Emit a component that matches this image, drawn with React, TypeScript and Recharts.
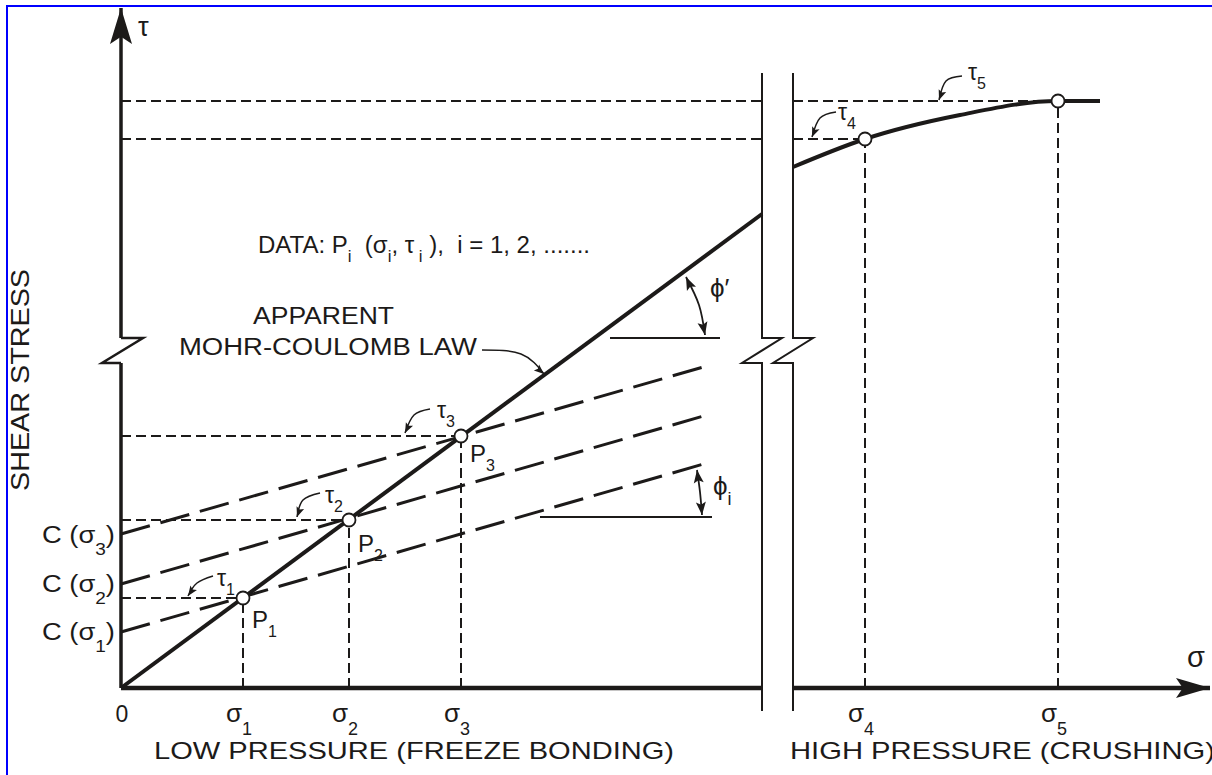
// Shear stress vs normal stress sketch: apparent Mohr-Coulomb law at low
// pressure (freeze bonding) and the crushing branch at high pressure.
// Units are sketch units (1 unit ~ 1 px), origin at the axis corner.

import React from 'react'
import { ComposedChart, Line, Scatter, XAxis, YAxis } from 'recharts'

const INK = '#1c1a19'
const FONT = "'Liberation Sans', Arial, Helvetica, sans-serif"

// measured points P1..P5
const sigmaP = [122, 228, 340, 744, 937]
const tauP = [90, 168, 252, 549, 587]

// apparent Mohr-Coulomb law, stops at the axis break
const mohrSigma = [0, 641]
const mohrTau = [0, 474]

// crushing branch after the break
const crushSigma = [672, 744, 839, 937, 979]
const crushTau = [521, 549, 573, 587, 587]

// Coulomb lines through each Pi: intercept C(σi) and value at the right end
const cohSigma = [0, 586]
const cohTau = [
  [56, 225],
  [104, 273],
  [154, 322],
]

// axis break (two parallel lines with a zig-zag)
const breakLeftSigma = [641, 641, 661, 621, 641, 641]
const breakRightSigma = [672, 672, 692, 652, 672, 672]
const breakTau = [615, 350, 350, 325, 325, -23]

// y-axis zig-zag
const yZigSigma = [0, -19, 22, 0]
const yZigTau = [325, 325, 350, 350]

// friction angle markers
const phiPrimeRefSigma = [489, 599]
const phiPrimeRefTau = [350, 350]
const phiPrimeArcSigma = [565, 578, 584]
const phiPrimeArcTau = [411, 383, 353]
const phiIRefSigma = [419, 591]
const phiIRefTau = [171, 171]
const phiIArcSigma = [576, 579, 581]
const phiIArcTau = [218, 196, 173]

// callout arrows for τ1..τ5 and the law label
const calloutSigma = [
  [92, 76, 67],
  [199, 182, 176],
  [309, 293, 284],
  [715, 699, 691],
  [841, 825, 818],
  [361, 400, 423],
]
const calloutTau = [
  [112, 105, 92],
  [195, 188, 171],
  [279, 273, 255],
  [576, 570, 551],
  [612, 607, 588],
  [338, 334, 314],
]

type XY = { x: number; y: number }
const zip = (xs: number[], ys: number[]): XY[] => xs.map((x, i) => ({ x, y: ys[i] }))

type Seg = {
  id: string
  data: XY[]
  w: number
  dash?: string
  curve?: 'linear' | 'natural' | 'monotone'
  head?: 'end' | 'both'
  hl?: number
  hw?: number
}

const SHORT_DASH = '10 5'
const LONG_DASH = '30 11'
const BREAK_L = breakLeftSigma[0]
const BREAK_R = breakRightSigma[0]

const segs: Seg[] = []

// dashed guides from each point to the axes
sigmaP.forEach((s, i) => {
  const t = tauP[i]
  segs.push({ id: `v${i}`, data: zip([s, s], [0, t]), w: 2, dash: SHORT_DASH })
  if (s < BREAK_L) {
    segs.push({ id: `h${i}`, data: zip([0, s], [t, t]), w: 2, dash: SHORT_DASH })
  } else {
    segs.push({ id: `h${i}a`, data: zip([0, BREAK_L], [t, t]), w: 2, dash: SHORT_DASH })
    segs.push({ id: `h${i}b`, data: zip([BREAK_R, s], [t, t]), w: 2, dash: SHORT_DASH })
  }
})

cohTau.forEach((ys, i) => {
  segs.push({ id: `c${i}`, data: zip(cohSigma, ys), w: 3, dash: LONG_DASH })
})

segs.push({ id: 'mohr', data: zip(mohrSigma, mohrTau), w: 4 })
segs.push({ id: 'crush', data: zip(crushSigma, crushTau), w: 4, curve: 'monotone' })

// axes
segs.push({ id: 'yLow', data: zip([0, 0], [0, 325]), w: 3.5 })
segs.push({ id: 'yZig', data: zip(yZigSigma, yZigTau), w: 2.5 })
segs.push({ id: 'yHigh', data: zip([0, 0], [350, 680]), w: 3.5, head: 'end', hl: 36, hw: 11 })
segs.push({ id: 'xLow', data: zip([0, BREAK_L], [0, 0]), w: 4.5 })
segs.push({ id: 'xHigh', data: zip([BREAK_R, 1089], [0, 0]), w: 4.5, head: 'end', hl: 34, hw: 10 })
segs.push({ id: 'brL', data: zip(breakLeftSigma, breakTau), w: 2 })
segs.push({ id: 'brR', data: zip(breakRightSigma, breakTau), w: 2 })

// angle markers
segs.push({ id: 'pRef', data: zip(phiPrimeRefSigma, phiPrimeRefTau), w: 2 })
segs.push({ id: 'iRef', data: zip(phiIRefSigma, phiIRefTau), w: 2 })
segs.push({ id: 'pArc', data: zip(phiPrimeArcSigma, phiPrimeArcTau), w: 1.8, curve: 'natural', head: 'both', hl: 13, hw: 5 })
segs.push({ id: 'iArc', data: zip(phiIArcSigma, phiIArcTau), w: 1.8, curve: 'natural', head: 'both', hl: 13, hw: 5 })

calloutSigma.forEach((xs, i) => {
  segs.push({ id: `co${i}`, data: zip(xs, calloutTau[i]), w: 1.5, curve: 'natural', head: 'end', hl: 10, hw: 4 })
})

const points = zip(sigmaP, tauP)

type Note = {
  x: number
  y: number
  text: string
  size: number
  anchor?: 'start' | 'middle' | 'end'
  rot?: number
  len?: number
  sd?: number
}

const notes: Note[] = [
  { x: 17, y: 652, text: 'τ', size: 27 },
  { x: 1066, y: 21, text: 'σ', size: 29 },
  { x: -92, y: 308, text: 'SHEAR STRESS', size: 26, anchor: 'middle', rot: -90, len: 222 },
  { x: -79, y: 145, text: 'C (σ_{3})', size: 23, sd: 12, len: 73 },
  { x: -79, y: 96, text: 'C (σ_{2})', size: 23, sd: 12, len: 73 },
  { x: -79, y: 48, text: 'C (σ_{1})', size: 23, sd: 12, len: 73 },
  { x: 1, y: -34, text: '0', size: 23, anchor: 'middle' },
  { x: 105, y: -34, text: 'σ_{1}', size: 26, sd: 13 },
  { x: 211, y: -34, text: 'σ_{2}', size: 26, sd: 13 },
  { x: 323, y: -34, text: 'σ_{3}', size: 26, sd: 13 },
  { x: 727, y: -34, text: 'σ_{4}', size: 26, sd: 13 },
  { x: 920, y: -34, text: 'σ_{5}', size: 26, sd: 13 },
  { x: 33, y: -71, text: 'LOW PRESSURE (FREEZE BONDING)', size: 24, len: 520 },
  { x: 669, y: -71, text: 'HIGH PRESSURE (CRUSHING)', size: 24, len: 425 },
  { x: 137, y: 435, text: 'DATA: P_{i}  (σ_{i}, τ_{ i} ),  i = 1, 2, .......', size: 23, len: 332 },
  { x: 132, y: 364, text: 'APPARENT', size: 23, len: 141 },
  { x: 58, y: 333, text: 'MOHR-COULOMB LAW', size: 23, len: 298 },
  { x: 131, y: 60, text: 'P_{1}', size: 24 },
  { x: 237, y: 136, text: 'P_{2}', size: 24 },
  { x: 349, y: 226, text: 'P_{3}', size: 24 },
  { x: 96, y: 102, text: 'τ_{1}', size: 23 },
  { x: 204, y: 185, text: 'τ_{2}', size: 23 },
  { x: 316, y: 270, text: 'τ_{3}', size: 23 },
  { x: 717, y: 568, text: 'τ_{4}', size: 23 },
  { x: 847, y: 608, text: 'τ_{5}', size: 23 },
  { x: 589, y: 391, text: 'ϕ′', size: 26 },
  { x: 592, y: 193, text: 'ϕ_{i}', size: 26 },
]

function arrowDot(seg: Seg) {
  return (p: any) => {
    const { cx, cy, index } = p
    const n = seg.data.length
    let from: XY | null = null
    if (seg.head && index === n - 1) from = seg.data[n - 2]
    else if (seg.head === 'both' && index === 0) from = seg.data[1]
    if (!from || cx == null || cy == null) return <g key={`d${seg.id}${index}`} />
    const to = seg.data[index]
    const deg = (Math.atan2(-(to.y - from.y), to.x - from.x) * 180) / Math.PI
    const L = seg.hl ?? 10
    const W = seg.hw ?? 4
    return (
      <polygon
        key={`d${seg.id}${index}`}
        points={`0,0 ${-L},${W} ${-L * 0.8},0 ${-L},${-W}`}
        transform={`translate(${cx},${cy}) rotate(${deg})`}
        fill={INK}
      />
    )
  }
}

function NoteShape(p: any) {
  const { cx, cy, payload } = p
  const n: Note = payload
  const subSize = Math.round(n.size * 0.68)
  const sd = n.sd ?? n.size * 0.38
  const parts = n.text.split(/(_\{[^}]*\})/).filter((s) => s.length > 0)
  let lowered = false
  const spans = parts.map((s, i) => {
    const isSub = s.startsWith('_{')
    const txt = isSub ? s.slice(2, -1) : s
    let dy = 0
    if (isSub && !lowered) {
      dy = sd
      lowered = true
    } else if (!isSub && lowered) {
      dy = -sd
      lowered = false
    }
    return (
      <tspan key={i} dy={dy} fontSize={isSub ? subSize : n.size}>
        {txt}
      </tspan>
    )
  })
  return (
    <text
      x={cx}
      y={cy}
      fontFamily={FONT}
      fontSize={n.size}
      fill={INK}
      textAnchor={n.anchor ?? 'start'}
      transform={n.rot ? `rotate(${n.rot},${cx},${cy})` : undefined}
      textLength={n.len}
      lengthAdjust={n.len ? 'spacingAndGlyphs' : undefined}
      style={{ whiteSpace: 'pre' }}
    >
      {spans}
    </text>
  )
}

function PointShape(p: any) {
  return <circle cx={p.cx} cy={p.cy} r={6.5} fill="#fff" stroke={INK} strokeWidth={1.8} />
}

export default function App() {
  return (
    <div
      style={{
        position: 'absolute',
        left: 0,
        top: 0,
        width: 1212,
        height: 775,
        background: '#fff',
        overflow: 'hidden',
      }}
    >
      <ComposedChart width={1212} height={775} margin={{ top: 0, right: 0, bottom: 0, left: 0 }}>
        <XAxis type="number" dataKey="x" domain={[-121, 1091]} hide allowDataOverflow />
        <YAxis type="number" dataKey="y" domain={[-87, 688]} hide allowDataOverflow />
        {segs.map((s) => (
          <Line
            key={s.id}
            data={s.data}
            dataKey="y"
            type={s.curve ?? 'linear'}
            stroke={INK}
            strokeWidth={s.w}
            strokeDasharray={s.dash}
            strokeLinejoin="miter"
            dot={s.head ? arrowDot(s) : false}
            activeDot={false}
            legendType="none"
            isAnimationActive={false}
          />
        ))}
        <Scatter data={points} shape={PointShape} isAnimationActive={false} />
        <Scatter data={notes} shape={NoteShape} isAnimationActive={false} />
      </ComposedChart>
      <div
        style={{
          position: 'absolute',
          left: 6,
          top: 5,
          width: 1206,
          height: 770,
          borderTop: '2.5px solid #0000ff',
          borderLeft: '2.5px solid #0000ff',
          boxSizing: 'border-box',
          pointerEvents: 'none',
        }}
      />
    </div>
  )
}
